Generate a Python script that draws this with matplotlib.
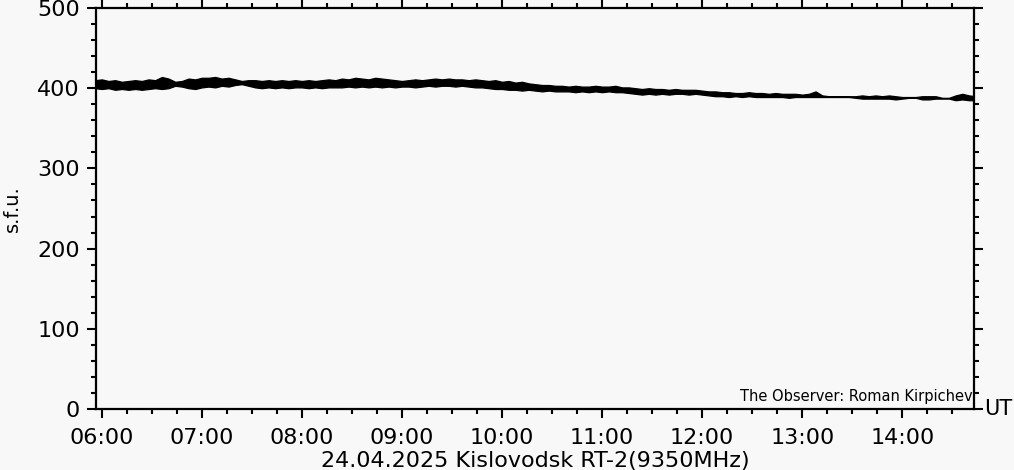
import numpy as np
import pandas as pd
import matplotlib
matplotlib.use('Agg')
from matplotlib import pyplot as plt
import matplotlib.dates as mdates

# upper / lower edge of the noisy flux band (s.f.u.), one value every 4 minutes from 05:56 UT
top = [410, 411, 409, 410, 408, 409, 410, 409, 411, 410, 414, 412, 408, 409, 412, 411, 413,
       413, 414, 412, 413, 411, 409, 410, 410, 409, 410, 409, 410, 409, 410, 409,
       410, 409, 410, 411, 410, 412, 411, 413, 412, 411, 413, 412, 411, 410, 409,
       410, 411, 410, 411, 412, 411, 412, 411, 411, 410, 411, 410, 409, 410, 408,
       409, 407, 408, 406, 405, 404, 404, 403, 403, 402, 403, 402, 402, 403, 402,
       402, 403, 401, 401, 400, 399, 400, 399, 399, 398, 399, 398, 398, 398, 397,
       396, 396, 395, 395, 394, 394, 395, 394, 394, 393, 394, 393, 393, 393, 392,
       393, 396, 391, 390, 390, 390, 390, 390, 391, 390, 391, 390, 391, 390, 389,
       389, 389, 390, 390, 390, 388, 388, 391, 393, 391, 390]
bottom = [400, 399, 400, 398, 399, 398, 399, 398, 399, 400, 399, 400, 403, 402, 400, 399, 401,
          402, 401, 403, 402, 404, 405, 403, 401, 400, 401, 400, 401, 400, 401, 401,
          400, 401, 400, 401, 401, 401, 402, 401, 402, 401, 402, 401, 402, 401, 402,
          402, 401, 402, 403, 402, 403, 403, 402, 403, 402, 401, 401, 400, 399, 399,
          398, 398, 397, 398, 397, 396, 397, 396, 396, 396, 395, 396, 395, 396, 395,
          396, 395, 395, 394, 393, 392, 393, 392, 393, 392, 393, 393, 392, 393, 392,
          391, 390, 390, 389, 390, 389, 390, 389, 389, 389, 389, 389, 388, 389, 389,
          389, 389, 389, 389, 389, 389, 389, 388, 387, 387, 387, 387, 387, 386, 387,
          388, 388, 386, 386, 387, 387, 387, 385, 386, 385, 385]

times = pd.date_range('2025-04-24 05:56', periods=len(top), freq='4min')
hour_ticks = pd.date_range('2025-04-24 06:00', '2025-04-24 14:00', freq='1h')
xmin = pd.Timestamp('2025-04-24 05:56:30')
xmax = pd.Timestamp('2025-04-24 14:43:00')

bg = '#f8f8f8'
fig = plt.figure(figsize=(10.14, 4.70), dpi=100, facecolor=bg)
ax = fig.add_axes([96/1014, 61/470, 878/1014, 401/470], facecolor=bg)

ax.fill_between(times, bottom, top, color='black', linewidth=0.9, edgecolor='black')

ax.set_xlim(xmin, xmax)
ax.set_ylim(0, 500)
ax.set_yticks(np.arange(0, 501, 100))
ax.yaxis.set_minor_locator(matplotlib.ticker.MultipleLocator(20))
ax.set_xticks(hour_ticks)
ax.xaxis.set_major_formatter(mdates.DateFormatter('%H:%M'))
ax.xaxis.set_minor_locator(mdates.MinuteLocator(byminute=[0, 15, 30, 45]))

ax.tick_params(which='both', direction='out', top=True, right=True, width=1.5,
               labelsize=16, colors='black')
ax.tick_params(which='major', length=6.5)
ax.tick_params(which='minor', length=3.5)
ax.tick_params(axis='x', pad=7)
ax.tick_params(axis='y', pad=5)
for s in ax.spines.values():
    s.set_linewidth(1.6)

ax.set_xlabel('24.04.2025 Kislovodsk RT-2(9350MHz)', fontsize=16, labelpad=2)
ax.set_ylabel('s.f.u.', fontsize=14)
ax.yaxis.set_label_coords(-0.084, 0.5)
ax.text(1.011, 0.0, 'UT', transform=ax.transAxes, fontsize=15, ha='left', va='center')
ax.text(0.998, 0.012, 'The Observer: Roman Kirpichev', transform=ax.transAxes,
        fontsize=10.5, ha='right', va='bottom')

fig.savefig('out.png', dpi=100, facecolor=bg)
